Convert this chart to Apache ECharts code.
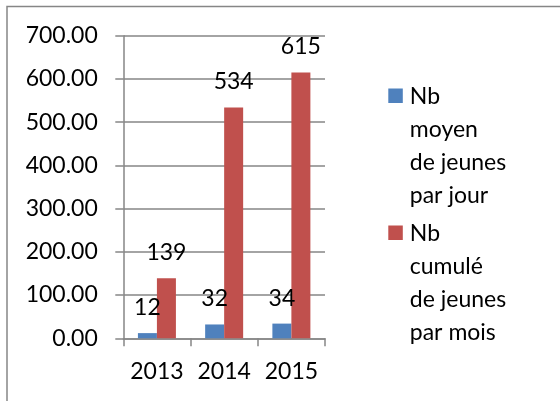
<!DOCTYPE html>
<html>
<head>
<meta charset="utf-8">
<script src="https://cdn.jsdelivr.net/npm/echarts@6/dist/echarts.min.js"></script>
<style>
html,body{margin:0;padding:0;background:#fff;}
#chart{width:560px;height:401px;}
</style>
</head>
<body>
<div id="chart"></div>
<script>
const categories = ['2013', '2014', '2015'];
const seriesNames = ['Nb moyen de jeunes par jour', 'Nb cumulé de jeunes par mois'];
const legendLines = [['Nb', 'moyen', 'de jeunes', 'par jour'], ['Nb', 'cumulé', 'de jeunes', 'par mois']];
const moyenParJour = [12, 32, 34];
const cumuleParMois = [139, 534, 615];
const yTicks = [0, 100, 200, 300, 400, 500, 600, 700];

const FONT = 'Lato';
const GRAY = '#868686';
const colors = ['#4F81BD', '#C0504D'];
// legend icon: square at top of a tall item box so it aligns with the first text line
const iconPath = 'path://M0,8.5H14.5V23H0Z M0,0L0.001,0 M0,132L0.001,132';

const chart = echarts.init(document.getElementById('chart'), null, {renderer: 'canvas'});
const labelStyle = {show: true, position: 'top', distance: 14, color: '#000', fontFamily: FONT, fontSize: 23};

chart.setOption({
  animation: false,
  backgroundColor: '#fff',
  textStyle: {fontFamily: FONT},
  graphic: [{
    type: 'rect', silent: true,
    shape: {x: 7, y: 6.5, width: 700, height: 600},
    style: {fill: 'none', stroke: GRAY, lineWidth: 1.5}
  }],
  grid: {left: 123.3, right: 235, top: 35.7, bottom: 62.7, containLabel: false},
  legend: {
    orient: 'vertical', left: 388.3, top: 80, padding: 0,
    itemWidth: 14.5, itemHeight: 132, itemGap: 5,
    data: seriesNames.map(n => ({name: n, icon: iconPath})),
    itemStyle: {borderWidth: 0},
    formatter: function (name) { return legendLines[seriesNames.indexOf(name)].join('\n'); },
    textStyle: {fontFamily: FONT, fontSize: 23, lineHeight: 33, color: '#000', padding: [0, 0, 0, 2]},
    selectedMode: false
  },
  xAxis: {
    type: 'category', data: categories, boundaryGap: true,
    axisLine: {lineStyle: {color: GRAY, width: 1.5}},
    axisTick: {show: true, length: 8, lineStyle: {color: GRAY, width: 1.5}},
    axisLabel: {color: '#000', fontFamily: FONT, fontSize: 23, margin: 22, interval: 0, hideOverlap: false}
  },
  yAxis: {
    type: 'value', min: yTicks[0], max: yTicks[yTicks.length - 1], interval: 100,
    axisLine: {show: true, lineStyle: {color: GRAY, width: 1.5}},
    axisTick: {show: true, length: 8, lineStyle: {color: GRAY, width: 1.5}},
    splitLine: {show: true, lineStyle: {color: GRAY, width: 1.5}},
    axisLabel: {color: '#000', fontFamily: FONT, fontSize: 23, margin: 25.5,
      formatter: v => v.toFixed(2)}
  },
  series: [
    {name: seriesNames[0], type: 'bar', data: moyenParJour, barWidth: 19, barGap: '0%',
      itemStyle: {color: colors[0]}, label: labelStyle},
    {name: seriesNames[1], type: 'bar', data: cumuleParMois, barWidth: 19, barGap: '0%',
      itemStyle: {color: colors[1]}, label: labelStyle}
  ]
});
</script>
</body>
</html>
